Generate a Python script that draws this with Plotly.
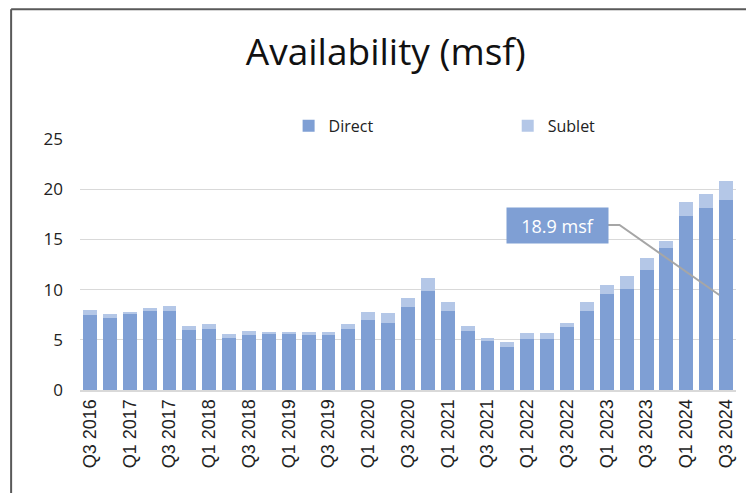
import plotly.graph_objects as go

quarters = [
    "Q3 2016", "Q4 2016", "Q1 2017", "Q2 2017", "Q3 2017", "Q4 2017",
    "Q1 2018", "Q2 2018", "Q3 2018", "Q4 2018", "Q1 2019", "Q2 2019",
    "Q3 2019", "Q4 2019", "Q1 2020", "Q2 2020", "Q3 2020", "Q4 2020",
    "Q1 2021", "Q2 2021", "Q3 2021", "Q4 2021", "Q1 2022", "Q2 2022",
    "Q3 2022", "Q4 2022", "Q1 2023", "Q2 2023", "Q3 2023", "Q4 2023",
    "Q1 2024", "Q2 2024", "Q3 2024",
]
direct = [
    7.5, 7.2, 7.6, 7.9, 7.9, 6.0, 6.1, 5.2, 5.5, 5.6, 5.65, 5.5,
    5.5, 6.1, 7.0, 6.7, 8.3, 9.9, 7.9, 5.9, 4.9, 4.3, 5.1, 5.1,
    6.3, 7.9, 9.6, 10.1, 12.0, 14.1, 17.3, 18.1, 18.9,
]
sublet = [
    0.45, 0.4, 0.15, 0.3, 0.45, 0.35, 0.45, 0.35, 0.35, 0.2, 0.15, 0.3,
    0.3, 0.45, 0.75, 0.95, 0.9, 1.3, 0.85, 0.5, 0.3, 0.5, 0.55, 0.6,
    0.4, 0.85, 0.9, 1.25, 1.1, 0.7, 1.4, 1.4, 1.9,
]
tick_labels = quarters[::2]
callout_text = "18.9 msf"

fig = go.Figure()
fig.add_trace(go.Bar(x=quarters, y=direct, name="Direct", legend="legend",
                     marker=dict(color="#7F9FD4", line=dict(width=0))))
fig.add_trace(go.Bar(x=quarters, y=sublet, name="Sublet", legend="legend2",
                     marker=dict(color="#B4C7E7", line=dict(width=0))))

legend_style = dict(
    orientation="h",
    xanchor="left",
    y=1.052, yanchor="middle",
    font=dict(family="Open Sans", size=16, color="#222"),
    itemclick=False,
    itemwidth=30,
    bgcolor="rgba(0,0,0,0)",
)

# the page body adds an 8px offset, so margins are shifted to compensate
fig.update_layout(
    barmode="stack",
    bargap=0.3,
    width=754,
    height=493,
    margin=dict(l=72, r=26, t=131, b=111, autoexpand=False),
    paper_bgcolor="white",
    plot_bgcolor="white",
    font=dict(family="Open Sans", color="#222"),
    title=dict(
        text="Availability (msf)",
        x=0.501, xref="container", xanchor="center",
        y=0.911, yref="container", yanchor="middle",
        font=dict(family="Open Sans", size=37, color="#111"),
    ),
    legend=dict(legend_style, x=0.318),
    legend2=dict(legend_style, x=0.652),
    showlegend=True,
)

fig.update_xaxes(
    tickmode="array",
    tickvals=tick_labels,
    ticktext=tick_labels,
    tickangle=-90,
    tickfont=dict(family="Liberation Sans", size=18, color="#222"),
    showline=True,
    linecolor="#d9d9d9",
    linewidth=2,
    showgrid=False,
    automargin=False,
)
fig.update_yaxes(
    range=[0, 25],
    dtick=5,
    showgrid=True,
    gridcolor="#d9d9d9",
    gridwidth=1,
    zeroline=False,
    tickfont=dict(family="Open Sans", size=17, color="#222"),
    ticklabelstandoff=16,
    automargin=False,
)

# callout box and connector
fig.add_annotation(
    x=23.5, y=16.4, xref="x", yref="y",
    text=callout_text, showarrow=False,
    font=dict(family="Open Sans", size=18, color="white"),
    bgcolor="#7F9FD4", width=97, height=31, borderpad=2,
)
fig.add_shape(
    type="path", xref="x", yref="y",
    path="M 26.03 16.43 L 26.64 16.43 L 31.66 9.46",
    line=dict(color="#a6a6a6", width=2),
)

# outer frame
fig.add_shape(type="line", xref="paper", yref="paper",
              x0=-0.105, x1=-0.105, y0=-0.5, y1=1.517,
              line=dict(color="#595959", width=2))
fig.add_shape(type="line", xref="paper", yref="paper",
              x0=-0.105, x1=1.2, y0=1.517, y1=1.517,
              line=dict(color="#595959", width=2))

fig.write_html("out.html")
